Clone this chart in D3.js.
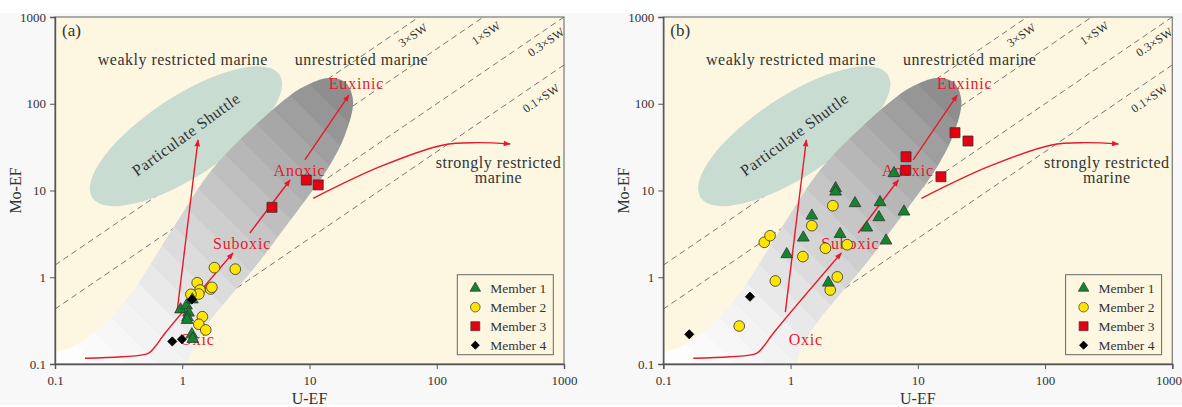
<!DOCTYPE html>
<html>
<head>
<meta charset="utf-8">
<script src="https://cdn.jsdelivr.net/npm/d3@7"></script>
<style>
  body { margin: 0; background: #fff; }
  svg { display: block; font-family: "Liberation Serif", "Times New Roman", serif; }
</style>
</head>
<body>
<div id="chart"></div>
<script>
// ---- data (U-EF, Mo-EF) ----
const aMember1 = [[0.97,0.425],[1.08,0.472],[1.12,0.39],[1.10,0.345],[1.09,0.321],[1.19,0.219],[1.21,0.194],[1.20,0.554]];
const aMember2 = [[1.79,1.29],[2.61,1.24],[1.31,0.865],[1.38,0.713],[1.35,0.641],[1.17,0.636],[1.67,0.732],[1.71,0.766],[1.44,0.351],[1.35,0.287],[1.53,0.247]];
const aMember3 = [[5.07,6.4],[9.44,13.2],[11.7,11.6]];
const aMember4 = [[0.835,0.182],[0.995,0.193],[1.19,0.554]];

const bMember1 = [[0.933,1.84],[1.26,2.86],[1.47,5.12],[2.26,10.6],[2.26,9.69],[3.21,7.12],[2.45,3.15],[1.98,0.865],[3.97,3.73],[4.95,4.91],[5.05,7.31],[5.63,2.64],[7.79,5.70],[6.50,15.8]];
const bMember2 = [[0.395,0.274],[0.759,0.906],[0.622,2.53],[0.69,3.01],[1.25,1.73],[1.47,3.93],[2.15,6.68],[1.88,2.16],[2.79,2.37],[2.33,1.01],[2.05,0.713]];
const bMember3 = [[8.08,24.5],[8.04,17.1],[19.6,46.4],[24.8,37.2],[15.2,14.4]];
const bMember4 = [[0.16,0.22],[0.48,0.597]];

const memberNames = ["Member 1", "Member 2", "Member 3", "Member 4"];
const tickValues = [0.1, 1, 10, 100, 1000];

// seawater Mo/U reference lines (Mo-EF = k * U-EF)
const swRatios = [13.8, 4.3, 1.0, 0.28];
const swLabels = ["3×SW", "1×SW", "0.3×SW", "0.1×SW"];
const swLabelPos = [[65, 620], [244, 654], [722, 515], [659, 116]];

// unrestricted marine field outline
const fieldOutline = [
  [13.96,198],[19.0,178],[21.98,110],[19.0,43.6],[13.7,17.2],[9.56,8.19],[6.19,3.51],[3.73,1.31],
  [2.25,0.547],[1.565,0.2815],[1.26,0.1656],[1.09,0.1],[0.877,0.05],[0.058,0.05],[0.0834,0.127],
  [0.1,0.1375],[0.136,0.157],[0.247,0.297],[0.40,0.66],[0.59,1.58],[0.95,4.82],[1.70,17.2],
  [3.35,48.5],[6.78,119.7],[9.22,160]
];
const shuttleCenter = [1.07, 42.2];

// red pathway arrows
const shuttleArrow = [[0.91,0.397],[1.33,38.2]];
const oxicArrow = [[0.172,0.1164],[0.334,0.121],[0.541,0.133],[0.611,0.158],[0.732,0.226],[2.505,1.905]];
const anoxicArrow = [[3.4,3.24],[7.03,13.2]];
const euxinicArrow = [[9.2,22.5],[20.4,126]];
const restrictedArrow = [[10.7,8.13],[35.8,18.8],[112.7,33.5],[206,35.6],[376.7,34.4]];

const redLabels = [["Euxinic",23.4,148],["Anoxic",8.35,14.7],["Suboxic",2.95,2.12],["Oxic",1.318,0.166]];
const zoneLabels = [
  ["weakly restricted marine",1.01,280],["unrestricted marine",25.6,280],
  ["strongly restricted",305.6,18.2],["marine",305.6,12.2]
];

const width = 509, height = 347, plotTop = 17;
const cream = "#fdf7e1", red = "#e8192c";
const colors = ["#14842e", "#ffe500", "#e60012", "#000"];
const symbols = [d3.symbolTriangle, d3.symbolCircle, d3.symbolSquare, d3.symbolSquare];
const sizes = [60, 90, 100, 42];

const svg = d3.select("#chart").append("svg")
    .attr("width", 1182)
    .attr("height", 407);

svg.append("rect")
    .attr("x", 0).attr("y", 13)
    .attr("width", 1182).attr("height", 392)
    .attr("fill", "#f8f8f8");

const defs = svg.append("defs");
defs.append("marker")
    .attr("id", "arrow")
    .attr("viewBox", "0 -5 10 10")
    .attr("refX", 9).attr("refY", 0)
    .attr("markerWidth", 9).attr("markerHeight", 7)
    .attr("markerUnits", "userSpaceOnUse")
    .attr("orient", "auto")
  .append("path")
    .attr("d", "M0,-4L10,0L0,4Z")
    .attr("fill", red);

const x = d3.scaleLog().domain([0.1, 1000]).range([0, width]);
const y = d3.scaleLog().domain([0.1, 1000]).range([height, 0]);
const angle = Math.atan((y(1) - y(10)) / (x(10) - x(1))) * 180 / Math.PI;

// banded grey ramp for the unrestricted field
const grey = d3.scaleLinear()
    .domain([0, 0.25, 0.5, 0.75, 1])
    .range(["#ffffff", "#f0f0f0", "#d2d2d2", "#afafaf", "#8a8a8a"]);
const bands = 18;

function drawPanel(id, left, members) {
    const g = svg.append("g").attr("transform", `translate(${left},${plotTop})`);

    defs.append("clipPath").attr("id", `clip-${id}`)
      .append("rect").attr("width", width).attr("height", height);

    const grad = defs.append("linearGradient")
        .attr("id", `grad-${id}`)
        .attr("gradientUnits", "userSpaceOnUse")
        .attr("x1", x(0.12)).attr("y1", y(0.1))
        .attr("x2", x(18)).attr("y2", y(160));
    d3.range(bands).forEach(i => {
        const c = grey((i + 0.5) / bands);
        grad.append("stop").attr("offset", i / bands).attr("stop-color", c);
        grad.append("stop").attr("offset", (i + 1) / bands).attr("stop-color", c);
    });

    g.append("rect")
        .attr("width", width).attr("height", height)
        .attr("fill", cream);

    const plot = g.append("g").attr("clip-path", `url(#clip-${id})`);

    // seawater lines
    plot.selectAll(".sw")
        .data(swRatios)
        .enter()
        .append("line")
        .attr("x1", x(0.1)).attr("y1", k => y(0.1 * k))
        .attr("x2", x(1000)).attr("y2", k => y(1000 * k))
        .attr("stroke", "#555")
        .attr("stroke-width", 0.8)
        .attr("stroke-dasharray", "6,4");

    plot.selectAll(".swlabel")
        .data(swLabels)
        .enter()
        .append("text")
        .attr("transform", (d, i) => `translate(${x(swLabelPos[i][0])},${y(swLabelPos[i][1])}) rotate(${-angle})`)
        .attr("text-anchor", "middle")
        .attr("dy", "0.35em")
        .style("font-size", "12px")
        .style("letter-spacing", "0.3px")
        .style("fill", "#333")
        .text(d => d);

    // particulate shuttle ellipse
    const cx = x(shuttleCenter[0]), cy = y(shuttleCenter[1]);
    plot.append("ellipse")
        .attr("cx", 0).attr("cy", 0)
        .attr("rx", 112).attr("ry", 40)
        .attr("transform", `translate(${cx},${cy}) rotate(-33.3)`)
        .attr("fill", "#c8dcd1");

    // unrestricted marine field
    const outline = d3.line()
        .x(d => x(d[0]))
        .y(d => y(d[1]))
        .curve(d3.curveCatmullRomClosed);
    plot.append("path")
        .attr("d", outline(fieldOutline))
        .attr("fill", `url(#grad-${id})`);

    plot.append("text")
        .attr("transform", `translate(${cx},${cy - 2}) rotate(-36)`)
        .attr("text-anchor", "middle")
        .attr("dy", "0.35em")
        .style("font-size", "16px")
        .style("letter-spacing", "0.6px")
        .style("fill", "#333")
        .text("Particulate Shuttle");

    plot.selectAll(".zone")
        .data(zoneLabels)
        .enter()
        .append("text")
        .attr("x", d => x(d[1]))
        .attr("y", d => y(d[2]))
        .attr("text-anchor", "middle")
        .style("font-size", "16px")
        .style("letter-spacing", "0.5px")
        .style("fill", "#333")
        .text(d => d[0]);

    // arrows
    const straight = d3.line().x(d => x(d[0])).y(d => y(d[1]));
    const curved = d3.line().x(d => x(d[0])).y(d => y(d[1])).curve(d3.curveCatmullRom);
    [[shuttleArrow, straight], [oxicArrow, curved], [anoxicArrow, straight], [euxinicArrow, straight], [restrictedArrow, curved]]
        .forEach(a => {
            plot.append("path")
                .attr("d", a[1](a[0]))
                .attr("fill", "none")
                .attr("stroke", red)
                .attr("stroke-width", 1.4)
                .attr("marker-end", "url(#arrow)");
        });

    plot.selectAll(".redlabel")
        .data(redLabels)
        .enter()
        .append("text")
        .attr("x", d => x(d[1]))
        .attr("y", d => y(d[2]))
        .attr("text-anchor", "middle")
        .style("font-size", "16px")
        .style("letter-spacing", "0.8px")
        .style("fill", red)
        .text(d => d[0]);

    // data points
    [1, 0, 2, 3].forEach(i => {
        plot.selectAll(`.m${i}`)
            .data(members[i])
            .enter()
            .append("path")
            .attr("d", d3.symbol().type(symbols[i]).size(sizes[i]))
            .attr("transform", d => `translate(${x(d[0])},${y(d[1])})` + (i === 3 ? " rotate(45)" : ""))
            .attr("fill", colors[i])
            .attr("stroke", i === 3 ? "#000" : "#333")
            .attr("stroke-width", 0.8);
    });

    // frame and axes
    g.append("rect")
        .attr("width", width).attr("height", height)
        .attr("fill", "none")
        .attr("stroke", "#777")
        .attr("stroke-width", 1.2);

    const fmt = d => d3.format("~g")(d);
    const yAxis = g.append("g")
        .call(d3.axisLeft(y).tickValues(tickValues).tickFormat(fmt).tickSize(5).tickPadding(4));
    const xAxis = g.append("g")
        .attr("transform", `translate(0,${height})`)
        .call(d3.axisBottom(x).tickValues(tickValues).tickFormat(fmt).tickSize(5).tickPadding(7));
    [xAxis, yAxis].forEach(ax => {
        ax.select(".domain").attr("stroke", "#555").attr("stroke-width", 1.4);
        ax.selectAll(".tick line").attr("stroke", "#555");
        ax.selectAll("text")
            .style("font-family", "'Liberation Serif', serif")
            .style("font-size", "13px")
            .style("fill", "#333");
    });
    // keep the last x label inside the page
    xAxis.selectAll(".tick text").filter(d => d === 1000).attr("dx", id === "b" ? "-0.3em" : null);

    g.append("text")
        .attr("transform", `translate(-34,${height / 2}) rotate(-90)`)
        .attr("text-anchor", "middle")
        .style("font-size", "16px")
        .style("fill", "#333")
        .text("Mo-EF");

    g.append("text")
        .attr("x", width / 2)
        .attr("y", height + 40)
        .attr("text-anchor", "middle")
        .style("font-size", "16px")
        .style("fill", "#333")
        .text("U-EF");

    g.append("text")
        .attr("x", 7).attr("y", 19)
        .style("font-size", "17px")
        .style("fill", "#333")
        .text(`(${id})`);

    // legend
    const legend = g.append("g")
        .attr("transform", `translate(${width - 106.7},${height - 89.3})`);
    legend.append("rect")
        .attr("width", 96).attr("height", 80)
        .attr("fill", cream)
        .attr("stroke", "#666")
        .attr("stroke-width", 1);
    memberNames.forEach((name, i) => {
        const row = legend.append("g").attr("transform", `translate(0,${13.5 + i * 19})`);
        row.append("path")
            .attr("d", d3.symbol().type(symbols[i]).size(sizes[i] * 0.8))
            .attr("transform", `translate(18,0)` + (i === 3 ? " rotate(45)" : ""))
            .attr("fill", colors[i])
            .attr("stroke", i === 3 ? "#000" : "#333")
            .attr("stroke-width", 0.7);
        row.append("text")
            .attr("x", 33).attr("dy", "0.35em")
            .style("font-size", "13.5px")
            .style("fill", "#333")
            .text(name);
    });
}

drawPanel("a", 55, [aMember1, aMember2, aMember3, aMember4]);
drawPanel("b", 663.3, [bMember1, bMember2, bMember3, bMember4]);
</script>
</body>
</html>
